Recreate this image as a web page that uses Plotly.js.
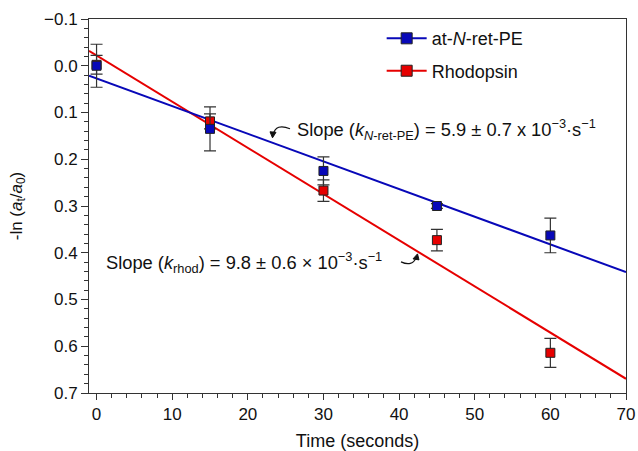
<!DOCTYPE html>
<html>
<head>
<meta charset="utf-8">
<script src="https://cdn.plot.ly/plotly-3.0.1.min.js"></script>
<style>html,body{margin:0;padding:0;background:#fff;}#chart{width:638px;height:451px;}</style>
</head>
<body>
<div id="chart"></div>
<script>
// ---- data ----
const time = [0, 15, 30, 45, 60];
const retpe = [0.0, 0.135, 0.225, 0.300, 0.363];
const retpeErr = [0.046, 0.047, 0.030, 0.005, 0.037];
const rhod = [-0.002, 0.119, 0.267, 0.373, 0.614];
const rhodErr = [0.020, 0.016, 0.023, 0.023, 0.031];
const fitRange = [-1, 70];
const retpeFit = {slope: 0.00592, intercept: 0.027};
const rhodFit = {slope: 0.00988, intercept: -0.022};
const xTickVals = [0, 10, 20, 30, 40, 50, 60, 70];
const yTickVals = [-0.1, 0, 0.1, 0.2, 0.3, 0.4, 0.5, 0.6, 0.7];

const BLUE = '#0808b8', RED = '#e60000';
const FONT = 'Liberation Sans, Arial, Helvetica, sans-serif';

function fitY(f) { return fitRange.map(x => f.intercept + f.slope * x); }

const traces = [
  {x: fitRange, y: fitY(rhodFit), mode: 'lines', line: {color: RED, width: 2}, showlegend: false, hoverinfo: 'skip'},
  {x: fitRange, y: fitY(retpeFit), mode: 'lines', line: {color: BLUE, width: 2}, showlegend: false, hoverinfo: 'skip'},
  {x: time, y: rhod, mode: 'markers', showlegend: false,
   error_y: {type: 'data', array: rhodErr, visible: true, color: '#333', thickness: 1.2, width: 6},
   marker: {symbol: 'square', size: 9, color: RED, line: {color: '#222', width: 1}}},
  {x: time, y: retpe, mode: 'markers', showlegend: false,
   error_y: {type: 'data', array: retpeErr, visible: true, color: '#333', thickness: 1.2, width: 6},
   marker: {symbol: 'square', size: 9, color: BLUE, line: {color: '#222', width: 1}}},
  {x: [null], y: [null], mode: 'lines+markers', name: 'at-<i>N</i>-ret-PE', legendgroup: 'a',
   line: {color: BLUE, width: 2}, marker: {symbol: 'square', size: 11, color: BLUE, line: {color: '#222', width: 1}}},
  {x: [null], y: [null], mode: 'lines+markers', name: 'Rhodopsin', legendgroup: 'b',
   line: {color: RED, width: 2}, marker: {symbol: 'square', size: 11, color: RED, line: {color: '#222', width: 1}}}
];

// helpers for decoration positions (pixel -> data)
const L = 89, R = 626, T = 19.3, B = 393;
function px(xp) { return fitRange[0] + (xp - L) / (R - L) * (fitRange[1] - fitRange[0]); }
function py(yp) { return -0.1 + (yp - T) / (B - T) * 0.8; }

const shapes = [
  // curved arrow 1 (toward blue line)
  {type: 'path', xref: 'x', yref: 'y', line: {color: '#111', width: 1.2},
   path: 'M ' + px(290) + ',' + py(129) + ' Q ' + px(276) + ',' + py(123) + ' ' + px(273) + ',' + py(135)},
  {type: 'path', xref: 'x', yref: 'y', line: {color: '#111', width: 1}, fillcolor: '#111',
   path: 'M ' + px(270) + ',' + py(132) + ' L ' + px(276) + ',' + py(132.5) + ' L ' + px(272.5) + ',' + py(138) + ' Z'},
  // curved arrow 2 (toward red line)
  {type: 'path', xref: 'x', yref: 'y', line: {color: '#111', width: 1.2},
   path: 'M ' + px(401) + ',' + py(262) + ' Q ' + px(412) + ',' + py(267) + ' ' + px(416) + ',' + py(258)},
  {type: 'path', xref: 'x', yref: 'y', line: {color: '#111', width: 1}, fillcolor: '#111',
   path: 'M ' + px(413) + ',' + py(259) + ' L ' + px(419) + ',' + py(260) + ' L ' + px(417.5) + ',' + py(254) + ' Z'}
];

const annotations = [
  {x: px(295), y: py(130), xref: 'x', yref: 'y', xanchor: 'left', yanchor: 'middle', showarrow: false,
   text: 'Slope (<i>k</i><sub><i>N</i>-ret-PE</sub>) = 5.9 ± 0.7 x 10<sup>−3</sup>·s<sup>−1</sup>',
   font: {family: FONT, size: 18.3, color: '#111'}},
  {x: px(104), y: py(263), xref: 'x', yref: 'y', xanchor: 'left', yanchor: 'middle', showarrow: false,
   text: 'Slope (<i>k</i><sub>rhod</sub>) = 9.8 ± 0.6 × 10<sup>−3</sup>·s<sup>−1</sup>',
   font: {family: FONT, size: 18.3, color: '#111'}}
];

const layout = {
  width: 638, height: 451,
  margin: {l: 89, r: 12, t: 19, b: 58},
  paper_bgcolor: '#fff', plot_bgcolor: '#fff',
  font: {family: FONT, size: 17, color: '#111'},
  showlegend: true,
  legend: {x: 0.545, y: 0.997, xanchor: 'left', yanchor: 'top', bgcolor: 'rgba(0,0,0,0)',
           font: {family: FONT, size: 18, color: '#111'}, tracegroupgap: 6, itemwidth: 40},
  xaxis: {
    range: fitRange, showgrid: false, zeroline: false,
    showline: true, linecolor: '#333', linewidth: 1, mirror: true,
    ticks: 'outside', ticklen: 6, tickcolor: '#333', tickwidth: 1,
    tickvals: xTickVals, ticktext: xTickVals.map(String),
    minor: {dtick: 2, tick0: 0, ticks: 'outside', ticklen: 4, tickcolor: '#333', tickwidth: 1},
    tickfont: {family: FONT, size: 17, color: '#111'},
    title: {text: 'Time (seconds)', font: {family: FONT, size: 18, color: '#111'}, standoff: 10}
  },
  yaxis: {
    range: [0.7, -0.1], showgrid: false, zeroline: false,
    showline: true, linecolor: '#333', linewidth: 1, mirror: true,
    ticks: 'outside', ticklen: 7, tickcolor: '#333', tickwidth: 1,
    tickvals: yTickVals, ticktext: yTickVals.map(v => (v < 0 ? '−' : '') + Math.abs(v).toFixed(1)),
    minor: {dtick: 0.02, tick0: 0, ticks: 'outside', ticklen: 4, tickcolor: '#333', tickwidth: 1},
    tickfont: {family: FONT, size: 17, color: '#111'},
    title: {text: '-ln (<i>a</i><sub>t</sub>/<i>a</i><sub>0</sub>)', font: {family: FONT, size: 17, color: '#111'}, standoff: 17}
  },
  shapes: shapes,
  annotations: annotations
};

Plotly.newPlot('chart', traces, layout, {staticPlot: true, displayModeBar: false});
</script>
</body>
</html>
